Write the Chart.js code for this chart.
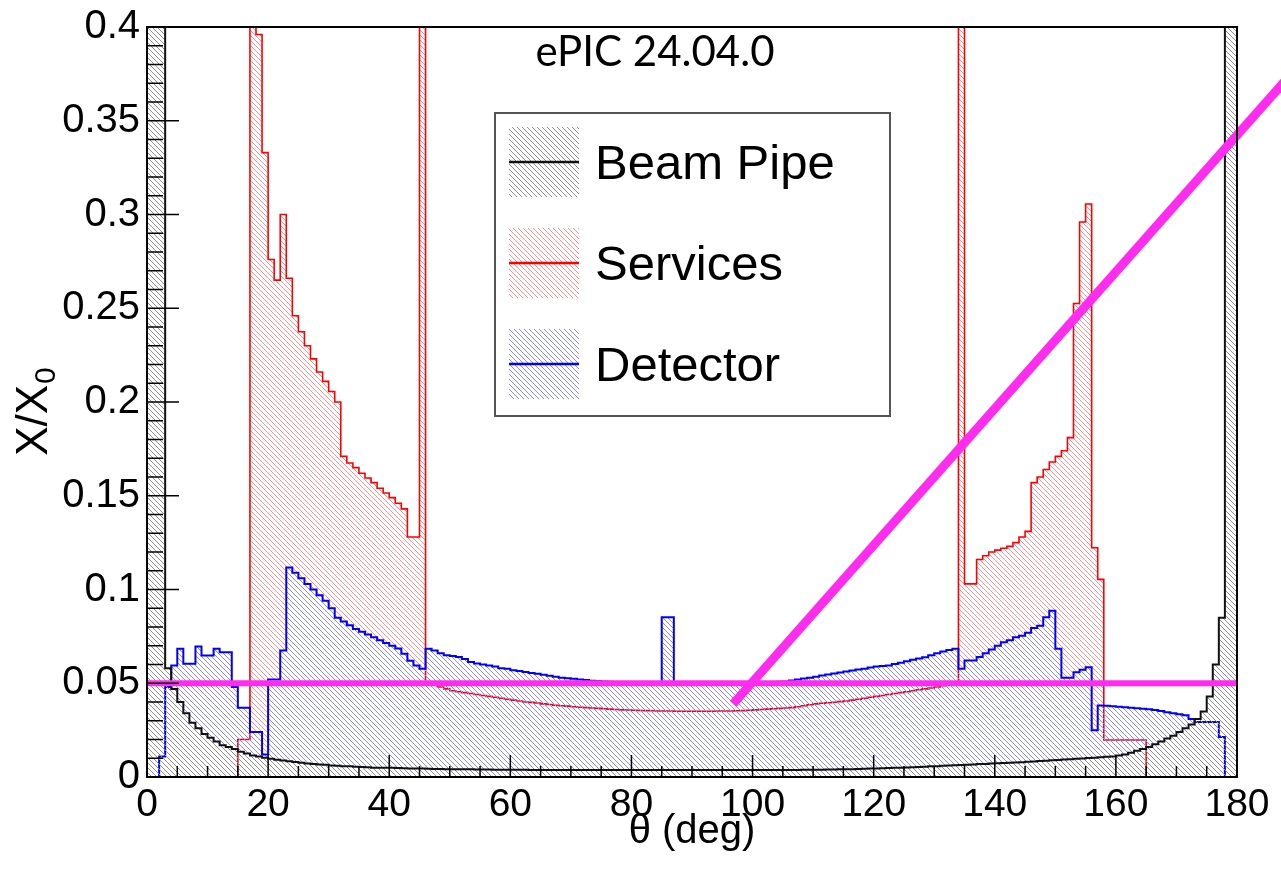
<!DOCTYPE html>
<html>
<head>
<meta charset="utf-8">
<title>ePIC material budget vs theta</title>
<script src="https://cdn.jsdelivr.net/npm/chart.js@4.4.1/dist/chart.umd.min.js"></script>
<style>
  html, body { margin: 0; padding: 0; background: #fff; }
  canvas { display: block; }
</style>
</head>
<body>
<canvas id="budgetChart" width="1281" height="875"></canvas>
<script>
// theta bins, 1 deg wide from 0 to 180
const binEdges = Array.from({ length: 181 }, (_, i) => i);

// X/X0 per bin (values above 0.4 are off scale in the plot)
const beamPipe = [
  0.6, 0.6, 0.6, 0.058, 0.047, 0.040, 0.034, 0.029, 0.026, 0.023,
  0.021, 0.019, 0.017, 0.016, 0.015, 0.0135, 0.0125, 0.0115, 0.011, 0.0103,
  0.0097, 0.0092, 0.0088, 0.0084, 0.008, 0.0076, 0.0072, 0.0069, 0.0067, 0.0065,
  0.0062, 0.006, 0.0058, 0.0057, 0.0055, 0.0053, 0.0052, 0.005, 0.005, 0.0049,
  0.0049, 0.0048, 0.0047, 0.0046, 0.0045, 0.0045, 0.0044, 0.0043, 0.0043, 0.0042,
  0.0042, 0.0041, 0.0041, 0.0041, 0.004, 0.004, 0.004, 0.0039, 0.0039, 0.0039,
  0.0039, 0.0039, 0.0039, 0.0038, 0.0038, 0.0038, 0.0038, 0.0038, 0.0038, 0.0038,
  0.0038, 0.0038, 0.0038, 0.0038, 0.0038, 0.0038, 0.0038, 0.0038, 0.0038, 0.0038,
  0.0038, 0.0038, 0.0038, 0.0038, 0.0038, 0.0038, 0.0038, 0.0038, 0.0038, 0.0038,
  0.0038, 0.0038, 0.0038, 0.0038, 0.0038, 0.0038, 0.0038, 0.0038, 0.0038, 0.0038,
  0.0038, 0.0038, 0.0038, 0.0038, 0.0038, 0.0038, 0.0038, 0.0038, 0.0039, 0.0039,
  0.0039, 0.0039, 0.004, 0.004, 0.0041, 0.0041, 0.0042, 0.0043, 0.0044, 0.0045,
  0.0046, 0.0047, 0.0048, 0.0049, 0.005, 0.0051, 0.0052, 0.0054, 0.0055, 0.0057,
  0.0058, 0.006, 0.0061, 0.0063, 0.0064, 0.0066, 0.0067, 0.0069, 0.007, 0.0072,
  0.0073, 0.0075, 0.0076, 0.0078, 0.0079, 0.0081, 0.0083, 0.0085, 0.0087, 0.0089,
  0.0091, 0.0093, 0.0095, 0.0097, 0.0099, 0.0101, 0.0103, 0.0105, 0.0108, 0.011,
  0.0115, 0.012, 0.013, 0.014, 0.015, 0.016, 0.0175, 0.019, 0.0205, 0.022,
  0.024, 0.026, 0.028, 0.031, 0.035, 0.043, 0.06, 0.085, 0.6, 0.6
];

const services = [
  0, 0, 0, 0, 0, 0, 0, 0, 0, 0,
  0, 0, 0, 0, 0, 0.02, 0.02, 0.6, 0.396, 0.333,
  0.276, 0.265, 0.300, 0.266, 0.246, 0.2375, 0.230, 0.223, 0.216, 0.211,
  0.2056, 0.200, 0.171, 0.1675, 0.165, 0.162, 0.1595, 0.157, 0.154, 0.1515,
  0.149, 0.146, 0.143, 0.128, 0.128, 0.6, 0.050, 0.049, 0.048, 0.047,
  0.046, 0.0455, 0.045, 0.0445, 0.044, 0.0435, 0.043, 0.0425, 0.042, 0.0415,
  0.041, 0.0405, 0.040, 0.0398, 0.0395, 0.039, 0.0387, 0.0383, 0.038, 0.0378,
  0.0375, 0.0372, 0.037, 0.0368, 0.0366, 0.0364, 0.0362, 0.036, 0.0358, 0.0357,
  0.0356, 0.0355, 0.0354, 0.0353, 0.0352, 0.0352, 0.0352, 0.0351, 0.0351, 0.0351,
  0.0351, 0.0351, 0.0351, 0.0351, 0.0352, 0.0352, 0.0352, 0.0353, 0.0354, 0.0356,
  0.0358, 0.036, 0.0362, 0.0364, 0.0366, 0.0368, 0.037, 0.0375, 0.038, 0.0385,
  0.039, 0.0393, 0.0396, 0.0399, 0.0402, 0.0405, 0.041, 0.0415, 0.042, 0.0425,
  0.043, 0.0435, 0.044, 0.0445, 0.045, 0.0455, 0.046, 0.0465, 0.047, 0.0475,
  0.048, 0.0487, 0.0493, 0.050, 0.6, 0.103, 0.103, 0.116, 0.118, 0.120,
  0.121, 0.122, 0.123, 0.125, 0.128, 0.131, 0.157, 0.160, 0.164, 0.168,
  0.171, 0.174, 0.181, 0.2525, 0.296, 0.3056, 0.1223, 0.1054, 0.0197, 0.0197,
  0.0197, 0.0197, 0.0197, 0.0197, 0.0197, 0, 0, 0, 0, 0,
  0, 0, 0, 0, 0, 0, 0, 0, 0, 0
];

const detector = [
  0, 0, 0.011, 0.048, 0.0595, 0.0684, 0.0604, 0.0604, 0.0696, 0.0648,
  0.0648, 0.0684, 0.0666, 0.0666, 0.048, 0.037, 0.037, 0.024, 0.024, 0.012,
  0.052, 0.052, 0.0675, 0.1117, 0.109, 0.106, 0.103, 0.100, 0.097, 0.094,
  0.090, 0.085, 0.083, 0.081, 0.079, 0.0775, 0.076, 0.0745, 0.073, 0.0715,
  0.070, 0.0685, 0.0657, 0.062, 0.0595, 0.0577, 0.0684, 0.0675, 0.066, 0.065,
  0.0645, 0.064, 0.063, 0.0613, 0.0605, 0.060, 0.0595, 0.059, 0.058, 0.0577,
  0.057, 0.0565, 0.056, 0.0555, 0.0551, 0.0545, 0.054, 0.0535, 0.053, 0.0527,
  0.0524, 0.052, 0.0517, 0.0514, 0.0512, 0.051, 0.0508, 0.0507, 0.0506, 0.0506,
  0.0506, 0.0505, 0.0505, 0.0505, 0.0505, 0.0852, 0.0852, 0.0505, 0.0505, 0.0505,
  0.0505, 0.0505, 0.0505, 0.0505, 0.0505, 0.0505, 0.0505, 0.0505, 0.0505, 0.0505,
  0.0505, 0.0505, 0.0505, 0.0505, 0.0508, 0.051, 0.0515, 0.052, 0.0525, 0.053,
  0.0535, 0.0542, 0.0547, 0.0552, 0.0558, 0.0563, 0.0568, 0.0573, 0.0578, 0.0584,
  0.0589, 0.0592, 0.0595, 0.0603, 0.061, 0.0617, 0.0625, 0.0632, 0.0639, 0.065,
  0.066, 0.067, 0.0677, 0.0684, 0.0577, 0.0622, 0.0622, 0.064, 0.066, 0.068,
  0.070, 0.0719, 0.073, 0.0745, 0.0754, 0.077, 0.0795, 0.0807, 0.0852, 0.0887,
  0.0684, 0.053, 0.053, 0.0559, 0.0572, 0.0586, 0.025, 0.0382, 0.038, 0.0378,
  0.0375, 0.0372, 0.037, 0.0367, 0.0364, 0.0361, 0.0358, 0.0352, 0.0346, 0.034,
  0.0335, 0.033, 0.031, 0.0294, 0.0294, 0.0294, 0.0294, 0.0214, 0, 0
];

// hand-drawn magenta marks, in (theta, X/X0)
const guideLevel = [{ x: 0, y: 0.05 }, { x: 180, y: 0.05 }];
const guideSlash = [{ x: 96.8, y: 0.039 }, { x: 195, y: 0.397 }];

const xTickStep = 20;
const yTickStep = 0.05;

// ROOT-style "\\\\" hatch fill
function hatch(color) {
  const s = 5;
  const c = document.createElement('canvas');
  c.width = s; c.height = s;
  const g = c.getContext('2d');
  g.strokeStyle = color;
  g.lineWidth = 1;
  g.beginPath();
  for (const k of [-s, 0, s]) {
    g.moveTo(k, 0);
    g.lineTo(k + s, s);
  }
  g.stroke();
  return g.createPattern(c, 'repeat');
}

function toSteps(values) {
  const pts = values.map((v, i) => ({ x: binEdges[i], y: v }));
  pts.push({ x: binEdges[values.length], y: values[values.length - 1] });
  return pts;
}

const rootFont = 'Liberation Sans, Arial, Helvetica, sans-serif';

// frame, inward ticks, legend box and extra text
const rootFrame = {
  id: 'rootFrame',
  afterDatasetsDraw(chart) {
    const { ctx, chartArea: a, scales: { x, y } } = chart;
    ctx.save();
    ctx.strokeStyle = '#000';
    ctx.lineWidth = 1.5;
    ctx.beginPath();
    for (let d = 0; d <= 180; d += 5) {
      const px = x.getPixelForValue(d);
      const len = d % 20 === 0 ? 22 : 11;
      ctx.moveTo(px, a.bottom);
      ctx.lineTo(px, a.bottom - len);
    }
    for (let k = 0; k <= 40; k++) {
      const py = y.getPixelForValue(k / 100);
      const len = k % 5 === 0 ? 32 : 16;
      ctx.moveTo(a.left, py);
      ctx.lineTo(a.left + len, py);
    }
    ctx.stroke();
    ctx.lineWidth = 2;
    ctx.strokeRect(a.left, a.top, a.right - a.left, a.bottom - a.top);
    ctx.restore();
  },
  afterDraw(chart) {
    const { ctx } = chart;
    ctx.save();

    // legend
    const box = { x: 495, y: 113, w: 395, h: 303 };
    ctx.fillStyle = '#fff';
    ctx.fillRect(box.x, box.y, box.w, box.h);
    ctx.strokeStyle = '#555';
    ctx.lineWidth = 2;
    ctx.strokeRect(box.x, box.y, box.w, box.h);
    chart.data.datasets.slice(0, 3).forEach((ds, i) => {
      const cy = box.y + 49 + i * 101;
      ctx.fillStyle = ds.backgroundColor;
      ctx.fillRect(box.x + 14, cy - 35, 70, 70);
      ctx.strokeStyle = ds.borderColor;
      ctx.lineWidth = 2.5;
      ctx.beginPath();
      ctx.moveTo(box.x + 14, cy);
      ctx.lineTo(box.x + 84, cy);
      ctx.stroke();
      ctx.fillStyle = '#000';
      ctx.font = '49px ' + rootFont;
      ctx.textAlign = 'left';
      ctx.textBaseline = 'middle';
      ctx.fillText(ds.label, box.x + 100, cy + 3);
    });

    // y axis title X/X0
    ctx.translate(47, 412);
    ctx.rotate(-Math.PI / 2);
    ctx.fillStyle = '#000';
    ctx.textBaseline = 'alphabetic';
    ctx.textAlign = 'left';
    ctx.font = '44px ' + rootFont;
    const main = 'X/X';
    const w1 = ctx.measureText(main).width;
    ctx.font = '30px ' + rootFont;
    const w2 = ctx.measureText('0').width;
    const x0 = -(w1 + w2) / 2;
    ctx.font = '44px ' + rootFont;
    ctx.fillText(main, x0, 0);
    ctx.font = '30px ' + rootFont;
    ctx.fillText('0', x0 + w1 + 1, 8);
    ctx.setTransform(1, 0, 0, 1, 0, 0);

    // version tag
    ctx.font = '42px Lato, "Open Sans", sans-serif';
    ctx.textAlign = 'center';
    ctx.fillText('ePIC 24.04.0', 655, 66);
    ctx.restore();
  }
};

const ctx = document.getElementById('budgetChart').getContext('2d');
const budgetChart = new Chart(ctx, {
  type: 'line',
  data: {
    datasets: [
      {
        label: 'Beam Pipe',
        data: toSteps(beamPipe),
        stepped: 'before',
        borderColor: '#111',
        borderWidth: 2,
        backgroundColor: hatch('#909090'),
        fill: 'origin',
        pointRadius: 0,
        order: 1,
      },
      {
        label: 'Services',
        data: toSteps(services),
        stepped: 'before',
        borderColor: '#ff0000',
        borderWidth: 1.6,
        backgroundColor: hatch('#ff8f8f'),
        fill: 'origin',
        pointRadius: 0,
        order: 3,
      },
      {
        label: 'Detector',
        data: toSteps(detector),
        stepped: 'before',
        borderColor: '#0000ff',
        borderWidth: 2,
        backgroundColor: hatch('#8a8aff'),
        fill: 'origin',
        pointRadius: 0,
        order: 2,
      },
      {
        label: 'level',
        data: guideLevel,
        borderColor: '#ff2cf0',
        borderWidth: 6,
        pointRadius: 0,
        fill: false,
        order: 0,
      },
      {
        label: 'slash',
        data: guideSlash,
        borderColor: '#ff2cf0',
        borderWidth: 9,
        borderCapStyle: 'butt',
        pointRadius: 0,
        fill: false,
        clip: false,
        order: 0,
      },
    ],
  },
  options: {
    responsive: false,
    animation: false,
    events: [],
    layout: { padding: { top: 23, right: 44, bottom: 0, left: 0 } },
    plugins: {
      legend: { display: false },
      tooltip: { enabled: false },
    },
    scales: {
      x: {
        type: 'linear',
        min: 0,
        max: 180,
        grid: { display: false, drawTicks: false },
        border: { display: false },
        ticks: {
          stepSize: xTickStep,
          autoSkip: false,
          maxRotation: 0,
          padding: 9,
          color: '#000',
          font: { family: rootFont, size: 39, lineHeight: 1 },
        },
        title: {
          display: true,
          text: 'θ (deg)',
          color: '#000',
          font: { family: rootFont, size: 40 },
          padding: { top: 0, bottom: 19 },
        },
        afterFit(scale) { scale.height = 98; },
      },
      y: {
        min: 0,
        max: 0.4,
        grid: { display: false, drawTicks: false },
        border: { display: false },
        ticks: {
          stepSize: yTickStep,
          padding: 7,
          color: '#000',
          font: { family: rootFont, size: 40, lineHeight: 1 },
          callback: (v) => String(Math.round(v * 100) / 100),
        },
        afterFit(scale) { scale.width = 147; },
      },
    },
  },
  plugins: [rootFrame],
});
</script>
</body>
</html>
